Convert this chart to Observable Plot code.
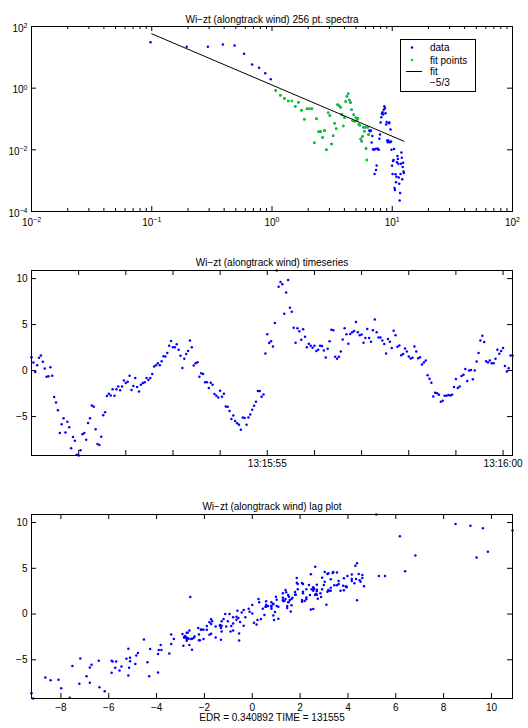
<!DOCTYPE html>
<html><head><meta charset="utf-8">
<script src="https://cdn.jsdelivr.net/npm/d3@7"></script>
<script src="https://cdn.jsdelivr.net/npm/@observablehq/plot@0.6"></script>
<style>
body{margin:0;background:#fff;}
#fig{position:relative;width:528px;height:728px;background:#fff;font-family:"Liberation Sans",Arial,Helvetica,sans-serif;}
#fig svg{position:absolute;left:0;}
.legend{position:absolute;left:400px;top:39px;width:74px;height:51px;border:1px solid #000;background:#fff;font-size:10px;}
.legend div{position:absolute;left:29px;line-height:10px;white-space:nowrap;}
</style></head><body><div id="fig"></div>
<script>
// ---------------- data ----------------
const spectraTitle = "Wi\u2212zt (alongtrack wind) 256 pt. spectra";
const tsTitle = "Wi\u2212zt (alongtrack wind) timeseries";
const lagTitle = "Wi\u2212zt (alongtrack wind) lag plot";
const bottomLabel = "EDR = 0.340892 TIME = 131555";

const spectraFreqStep = 25 / 256;           // Hz per bin
const spectraLog10Power = [
  1.49, 1.34, 1.34, 1.416, 1.384, 1.113, 0.767, 0.66, 0.485, 0.29,
  -0.076, -0.227, -0.335, -0.42, -0.42, -0.595, -0.455, -0.72, -1.006, -0.67,
  -0.67, -0.67, -1.77, -0.995, -1.417, -1.406, -1.6, -1.37, -2.0, -0.8,
  -0.89, -1.81, -1.54, -1.135, -1.32, -0.54, -0.57, -0.617, -0.85, -1.23,
  -0.95, -0.43, -0.26, -0.184, -0.38, -0.465, -0.70, -1.05, -0.865, -1.07,
  -0.96, -1.05, -0.98, -1.17, -1.2, -1.65, -1.72, -1.57, -1.27, -1.395,
  -1.27, -1.96, -2.33, -1.27, -1.5,
  -1.37, -1.40, -1.37, -1.76, -1.55, -1.98, -2.0, -2.78, -1.97, -2.65,
  -2.51, -1.96, -1.98, -2.0, -1.64, -1.5,
  -1.11, -0.94, -0.83, -0.78, -0.85, -0.70, -0.59, -0.65, -0.81, -1.18, -1.10,
  -1.70, -1.75, -1.70, -1.14, -1.11, -1.75, -1.34, -1.73,
  -2.0, -2.52, -2.78, -2.36, -2.33, -1.97, -3.24, -3.30, -2.79, -3.05,
  -2.87, -2.4, -2.2, -2.3, -2.45, -2.9, -3.1, -3.64, -3.4, -2.78,
  -2.45, -2.09, -2.26, -2.95, -2.56, -2.42, -2.7, -2.75
];
const fitFirstBin = 11, fitLastBin = 65;
const fitFreq = [0.1, 12.5];
const fitPower = [58, 0.019];
const spectraMajorX = [0.01, 0.1, 1, 10, 100];
const spectraMinorMult = [2, 3, 4, 5, 6, 7, 8, 9];
const spectraMajorY = [1e-4, 1e-2, 1, 1e2];
const legendLabels = ["data", "fit points", "fit", "\u22125/3"];

const tsStartSec = 50;          // seconds after 13:15:00
const tsRateHz = 25;
const tsClockBase = [13, 15, 0];
const tsValues = [
  1.46, 0.88, -0.15, 0.58, 1.39, 1.64, 0.95, 0.22, -0.66, -0.62,
  0.36, -0.55, -2.88, -3.47, -4.31, -6.79, -5.84, -5.18, -6.72, -5.55,
  -6.17, -8.43, -7.23, -7.63, -9.16, -9.23, -8.65, -6.93, -6.79, -7.52,
  -5.69, -5.18, -3.8, -3.94, -6.39, -7.99, -8.1, -7.19, -4.85, -4.53,
  -2.77, -2.52, -2.7, -2.04, -2.74, -2.04, -1.72, -2.15, -1.72, -1.09,
  -1.35, -1.2, -0.55, -2.12, -1.68, -0.8, -1.79, -2.26, -1.53, -1.35,
  -1.28, -0.8, -1.02, -0.8, -0.36, 0.44, 0.58, 0.8, 0.58, 1.02,
  1.57, 1.53, 1.9, 2.7, 3.21, 2.55, 2.55, 2.85, 2.26, 1.61, 0.29,
  1.28, 1.79, 2.12, 3.28, 2.55, 0.55, 0.8, 0.91, -0.66, -0.29,
  -0.36, -1.28, -1.28, -1.9, -1.31, -1.53, -2.55, -2.74, -2.92, -2.19,
  -2.85, -2.52, -3.91, -3.94, -4.38, -5.26, -4.89, -5.47, -5.73, -5.88,
  -6.42, -5.11, -5.15, -5.88, -5.11, -4.78, -4.27, -3.83, -3.39, -2.23,
  -2.23, -2.85, -2.59, 1.86, 3.94, 2.99, 3.18, 2.63, 5.18, 10.88,
  9.12, 9.64, 9.38, 6.17, 8.5, 9.85, 6.82, 6.39, 4.67, 3.03,
  4.6, 4.27, 3.36, 4.49, 3.69, 2.55, 2.92, 2.7, 2.48, 2.7,
  2.12, 2.26, 2.7, 2.66, 2.19, 1.42, 2.37, 3.18, 4.45, 4.38,
  1.5, 1.28, 1.5, 2.08, 3.39, 4.6, 3.94, 2.92, 3.98, 4.16,
  4.31, 5.29, 4.16, 3.83, 3.91, 3.03, 3.54, 4.53, 3.54, 3.14,
  4.38, 5.55, 4.16, 3.61, 3.61, 3.28, 2.88, 1.86, 3.43, 3.14,
  2.45, 4.34, 3.83, 2.59, 2.74, 1.68, 1.79, 2.41, 2.08, 1.53,
  1.31, 1.39, 2.63, 2.08, 1.35, 1.46, 0.66, 0.88, 1.09, -0.51, -0.88, -1.31,
  -2.81, -2.41, -2.45, -2.63, -3.39, -3.28, -2.74, -2.74, -2.66, -2.7,
  -2.63, -1.79, -0.91, -1.9, -1.72, -0.58, -0.44, 0.18, -1.13, 0,
  0.07, -0.95, 0, 0.99, 1.9, 3.28, 3.8, 3.1, 1.02, 0.88,
  1.09, 0.8, 0.8, 1.28, 2.26, 1.82, 2.12, 2.45, 0.51, -0.11,
  0.26, 1.64, 1.64
];
const tsTicks = [50, 51, 52, 53, 54, 55, 56, 57, 58, 59, 60];
const tsLabelTicks = [55, 60];
const valueTicksY = [-5, 0, 5, 10];
const lagTicksX = [-8, -6, -4, -2, 0, 2, 4, 6, 8, 10];

// ---------------- layout ----------------
const W = 528, mL = 31, mR = 16, FW = W - mL - mR;
const BLUE = "#0000ff", GREEN = "#00dd00";
const DOT_R = 1.25;
const FONT = '"Liberation Sans", Arial, Helvetica, sans-serif';
const fig = document.getElementById("fig");

function inTicks(xs, ys, fh, len) {
  return [
    Plot.ruleX(xs, {x: d => d, insetTop: fh - len, stroke: "black"}),
    Plot.ruleX(xs, {x: d => d, insetBottom: fh - len, stroke: "black"}),
    Plot.ruleY(ys, {y: d => d, insetRight: FW - len, stroke: "black"}),
    Plot.ruleY(ys, {y: d => d, insetLeft: FW - len, stroke: "black"})
  ];
}
const logFmt = d => "10^" + Math.round(Math.log10(d));
function fixSup(svg) {
  d3.select(svg).selectAll("text").each(function() {
    const m = /^10\^(-?\d+)$/.exec(this.textContent);
    if (m) {
      const s = d3.select(this);
      s.text("10");
      s.append("tspan").attr("dy", "-0.55em").attr("font-size", "7px")
        .text(m[1].replace("-", "\u2212"));
    }
  });
}
function place(svg, top) { svg.style.top = top + "px"; fig.appendChild(svg); }
const baseStyle = {fontFamily: FONT, fontSize: "10px", background: "transparent", overflow: "visible"};

// ---------------- panel 1: spectra ----------------
{
  const H = 240, mt = 26, mb = 29, fh = H - mt - mb;
  const spectra = spectraLog10Power.map((v, i) => ({k: i + 1, f: (i + 1) * spectraFreqStep, p: 10 ** v}));
  const fitPts = spectra.filter(d => d.k >= fitFirstBin && d.k <= fitLastBin);
  const fitLine = fitFreq.map((f, i) => ({f, p: fitPower[i]}));
  const minorX = spectraMajorX.slice(0, -1).flatMap(d => spectraMinorMult.map(m => d * m));
  const svg = Plot.plot({
    width: W, height: H, marginTop: mt, marginBottom: mb, marginLeft: mL, marginRight: mR,
    style: baseStyle,
    x: {type: "log", domain: [0.01, 100], label: null},
    y: {type: "log", domain: [1e-4, 1e2], label: null},
    marks: [
      Plot.dot(spectra, {x: "f", y: "p", r: DOT_R, fill: BLUE}),
      Plot.dot(fitPts, {x: "f", y: "p", r: DOT_R, fill: GREEN}),
      Plot.line(fitLine, {x: "f", y: "p", stroke: "black", strokeWidth: 1}),
      ...inTicks(spectraMajorX, spectraMajorY, fh, 5),
      Plot.ruleX(minorX, {x: d => d, insetTop: fh - 3, stroke: "black"}),
      Plot.ruleX(minorX, {x: d => d, insetBottom: fh - 3, stroke: "black"}),
      Plot.axisX({ticks: spectraMajorX, tickSize: 0, tickPadding: 7, tickFormat: logFmt, label: null, fill: "black"}),
      Plot.axisY({ticks: spectraMajorY, tickSize: 0, tickPadding: 4, tickFormat: logFmt, label: null, dy: 2, fill: "black"}),
      Plot.frame({stroke: "black"}),
      Plot.text([spectraTitle], {text: d => d, frameAnchor: "top", dy: -11, fill: "black"})
    ]
  });
  fixSup(svg);
  place(svg, 0);
  // legend
  const lg = document.createElement("div");
  lg.className = "legend";
  const tops = [3, 16, 27, 38];
  legendLabels.forEach((t, i) => {
    const d = document.createElement("div");
    d.textContent = t; d.style.top = tops[i] + "px";
    lg.appendChild(d);
  });
  const sw = document.createElementNS("http://www.w3.org/2000/svg", "svg");
  sw.setAttribute("width", 28); sw.setAttribute("height", 51);
  sw.style.position = "absolute"; sw.style.left = "0"; sw.style.top = "0";
  sw.innerHTML = `<circle cx="11" cy="7.5" r="${DOT_R}" fill="${BLUE}"/>
    <circle cx="11" cy="20" r="${DOT_R}" fill="${GREEN}"/>
    <line x1="5" x2="21" y1="31.5" y2="31.5" stroke="black"/>`;
  lg.appendChild(sw);
  fig.appendChild(lg);
}

// ---------------- panel 2: timeseries ----------------
{
  const H = 240, mt = 30, mb = 25, fh = H - mt - mb;
  const rows = tsValues.map((v, i) => ({t: tsStartSec + i / tsRateHz, v}));
  const clock = s => {
    const tot = tsClockBase[0] * 3600 + tsClockBase[1] * 60 + tsClockBase[2] + s;
    const p = n => String(Math.floor(n)).padStart(2, "0");
    return `${p(tot / 3600)}:${p((tot % 3600) / 60)}:${p(tot % 60)}`;
  };
  const svg = Plot.plot({
    width: W, height: H, marginTop: mt, marginBottom: mb, marginLeft: mL, marginRight: mR,
    style: baseStyle,
    x: {domain: d3.extent(rows, d => d.t), label: null},
    y: {domain: d3.extent(tsValues), label: null},
    marks: [
      Plot.dot(rows, {x: "t", y: "v", r: DOT_R, fill: BLUE}),
      ...inTicks(tsTicks, valueTicksY, fh, 5),
      Plot.axisX({ticks: tsTicks, tickSize: 0, tickPadding: 4.5, label: null, fill: "black",
        tickFormat: d => tsLabelTicks.includes(d) ? clock(d) : ""}),
      Plot.axisY({ticks: valueTicksY, tickSize: 0, tickPadding: 4, label: null, fill: "black"}),
      Plot.frame({stroke: "black"}),
      Plot.text([tsTitle], {text: d => d, frameAnchor: "top", dy: -12, fill: "black"})
    ]
  });
  place(svg, 240);
}

// ---------------- panel 3: lag plot ----------------
{
  const H = 248, mt = 34, mb = 30, fh = H - mt - mb;
  const lag = tsValues.slice(0, -1).map((v, i) => ({a: v, b: tsValues[i + 1]}));
  const svg = Plot.plot({
    width: W, height: H, marginTop: mt, marginBottom: mb, marginLeft: mL, marginRight: mR,
    style: baseStyle,
    x: {domain: d3.extent(lag, d => d.a), label: null},
    y: {domain: d3.extent(lag, d => d.b), label: null},
    marks: [
      Plot.dot(lag, {x: "a", y: "b", r: DOT_R, fill: BLUE}),
      ...inTicks(lagTicksX, valueTicksY, fh, 5),
      Plot.axisX({ticks: lagTicksX, tickSize: 0, tickPadding: 5, label: null, fill: "black"}),
      Plot.axisY({ticks: valueTicksY, tickSize: 0, tickPadding: 4, label: null, fill: "black"}),
      Plot.frame({stroke: "black"}),
      Plot.text([lagTitle], {text: d => d, frameAnchor: "top", dy: -11.5, fill: "black"}),
      Plot.text([bottomLabel], {text: d => d, frameAnchor: "bottom", dy: 22.5, fill: "black"})
    ]
  });
  place(svg, 480);
}
</script></body></html>
